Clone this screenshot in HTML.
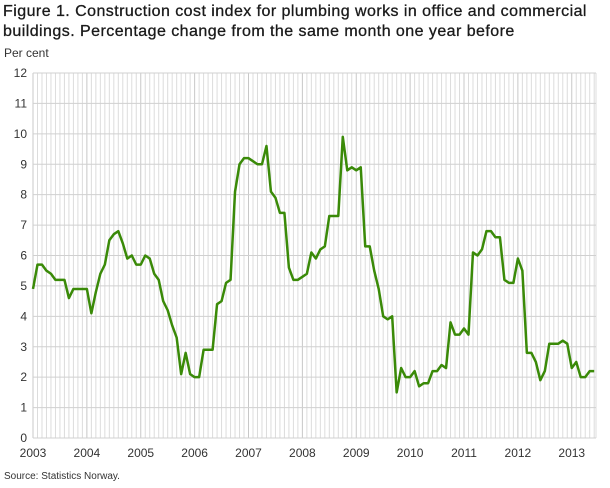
<!DOCTYPE html>
<html><head><meta charset="utf-8"><style>
body{margin:0;background:#fff;font-family:"Liberation Sans","DejaVu Sans",sans-serif;}
#wrap{position:relative;width:610px;height:488px;overflow:hidden}
.t{position:absolute;left:3px;font-size:16px;color:#1a1a1a;line-height:20px;letter-spacing:0.45px;-webkit-text-stroke:0.3px #1a1a1a}
</style></head><body>
<div id="wrap">
<div class="t" style="top:2px">Figure 1. Construction cost index for plumbing works in office and commercial<br>buildings. Percentage change from the same month one year before</div>
<div style="position:absolute;left:4px;top:46px;font-size:12px;color:#333">Per cent</div>
<div style="position:absolute;left:4px;top:471px;font-size:10px;color:#333">Source: Statistics Norway.</div>
<svg id="chart" width="610" height="488" style="position:absolute;left:0;top:0"></svg>
</div>
<script>
const yTicks=[0,1,2,3,4,5,6,7,8,9,10,11,12];
const years=["2003","2004","2005","2006","2007","2008","2009","2010","2011","2012","2013"];
const values=[4.9,5.7,5.7,5.5,5.4,5.2,5.2,5.2,4.6,4.9,4.9,4.9,
4.9,4.1,4.8,5.4,5.7,6.5,6.7,6.8,6.4,5.9,6.0,5.7,
5.7,6.0,5.9,5.4,5.2,4.5,4.2,3.7,3.3,2.1,2.8,2.1,
2.0,2.0,2.9,2.9,2.9,4.4,4.5,5.1,5.2,8.1,9.0,9.2,
9.2,9.1,9.0,9.0,9.6,8.1,7.9,7.4,7.4,5.6,5.2,5.2,
5.3,5.4,6.1,5.9,6.2,6.3,7.3,7.3,7.3,9.9,8.8,8.9,
8.8,8.9,6.3,6.3,5.5,4.9,4.0,3.9,4.0,1.5,2.3,2.0,
2.0,2.2,1.7,1.8,1.8,2.2,2.2,2.4,2.3,3.8,3.4,3.4,
3.6,3.4,6.1,6.0,6.2,6.8,6.8,6.6,6.6,5.2,5.1,5.1,
5.9,5.5,2.8,2.8,2.5,1.9,2.2,3.1,3.1,3.1,3.2,3.1,
2.3,2.5,2.0,2.0,2.2,2.2];
const svg=document.getElementById('chart');
const NS='http://www.w3.org/2000/svg';
const L=33,R=596,T=73,B=438,nMonths=126;
const xs=i=>L+i*(R-L)/(nMonths-1+0.4);
const ys=v=>B-v*(B-T)/12;
function mk(tag,attrs){const e=document.createElementNS(NS,tag);for(const k in attrs)e.setAttribute(k,attrs[k]);svg.appendChild(e);return e;}
for(let i=0;i<=nMonths;i++){
 const x=Math.min(xs(i),R);
 const l=mk('line',{x1:x,x2:x,y1:T,y2:B,stroke:i%12==0?'#c8c8c8':'#dcdcdc','stroke-width':1});
 
 
}
mk('line',{x1:R,x2:R,y1:T,y2:B,stroke:'#dcdcdc'});
yTicks.forEach(v=>{
 const y=ys(v);
 const l=mk('line',{x1:L,x2:R,y1:y,y2:y,stroke:'#d0d0d0','stroke-width':1});
 
 
 const t=mk('text',{x:27,y:y+4,'text-anchor':'end','font-size':12,fill:'#333'});
 t.textContent=v;
 
 
});
years.forEach((yr,i)=>{
 const t=mk('text',{x:xs(i*12),y:457,'text-anchor':'middle','font-size':12,fill:'#333'});
 t.textContent=yr;
 
 
});
const p=mk('polyline',{points:values.map((v,i)=>xs(i)+','+ys(v)).join(' '),fill:'none',stroke:'#3a8a08','stroke-width':2.5,'stroke-linejoin':'round'});


</script>
</body></html>
